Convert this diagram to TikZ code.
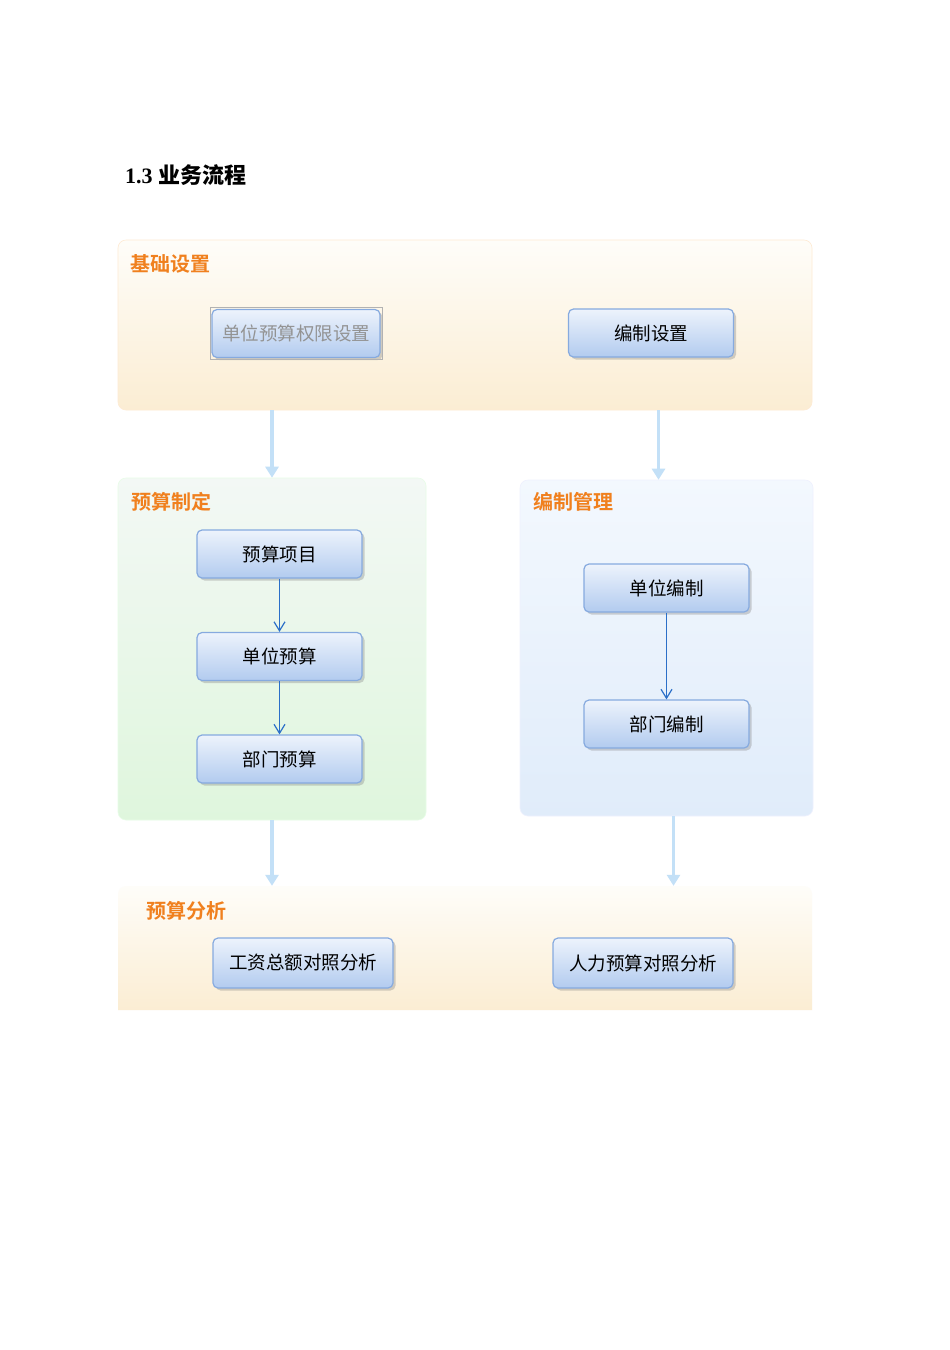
\documentclass[tikz,border=0pt]{standalone}
\usepackage{fontspec}
\setmainfont{Liberation Serif}
\newfontfamily\cjk{Noto Sans CJK SC}
\newfontfamily\cjkb{Noto Sans CJK SC Bold}
\usetikzlibrary{arrows.meta,shadows,calc}
\definecolor{lbl}{HTML}{F0801E}
\definecolor{b1top}{HTML}{FEFDF9}
\definecolor{b1bot}{HTML}{FBEDD3}
\definecolor{b2top}{HTML}{F3F8F5}
\definecolor{b2bot}{HTML}{DFF6DD}
\definecolor{b3top}{HTML}{F3F8FE}
\definecolor{b3bot}{HTML}{E0ECFA}
\definecolor{ntop}{HTML}{EDF3FC}
\definecolor{nbot}{HTML}{B2CBEF}
\definecolor{nborder}{HTML}{86AADF}
\definecolor{bigarr}{HTML}{C3E0F7}
\definecolor{smallarr}{HTML}{2B6FC8}
\tikzset{
  groupbox/.style={rounded corners=8pt, inner sep=0pt},
  grouplabel/.style={font=\cjkb\fontsize{20}{20}\selectfont, text=lbl, anchor=west, inner sep=0pt},
  stepbox/.style={rounded corners=5pt, draw=nborder, line width=1.2pt, top color=ntop, bottom color=nbot,
    minimum width=165pt, minimum height=48pt, inner sep=0pt,
    font=\cjk\fontsize{18.5}{18.5}\selectfont, text=black,
    drop shadow={opacity=0.35, shadow xshift=2.5pt, shadow yshift=-2.5pt}},
  bigarrow/.style={draw=bigarr, line width=3.5pt, -{Triangle[length=11pt,width=13pt]}},
  smallarrow/.style={draw=smallarr, line width=1.2pt, -{Straight Barb[length=9pt,width=11pt,line width=1.2pt]}}
}
\begin{document}
\begin{tikzpicture}[x=1pt,y=-1pt]
\useasboundingbox[fill=white] (0,0) rectangle (950,1350);
% title
\node[anchor=base west, inner sep=0pt, font=\bfseries\fontsize{22}{22}\selectfont] (title) at (125,183) {1.3 {\cjkb 业务流程}};
% group boxes
\node[groupbox, draw=b1bot!70!orange!40, line width=0.6pt, top color=b1top, bottom color=b1bot, minimum width=694pt, minimum height=170pt] (g1) at (465,325) {};
\node[groupbox, draw=b2bot!80!green!30, line width=0.6pt, top color=b2top, bottom color=b2bot, minimum width=308pt, minimum height=342pt] (g2) at (272,649) {};
\node[groupbox, draw=b3bot!85!blue!25, line width=0.6pt, top color=b3top, bottom color=b3bot, minimum width=293pt, minimum height=336pt] (g3) at (666.5,648) {};
\shade[top color=b1top, bottom color=b1bot] (118,1010) [rounded corners=8pt] -- (118,886) -- (812,886) [sharp corners] -- (812,1010) -- cycle;
\node[inner sep=0pt, minimum width=694pt, minimum height=124pt] (g4) at (465,948) {};
% group labels
\node[grouplabel] (l1) at (130,264) {基础设置};
\node[grouplabel] (l2) at (131,502) {预算制定};
\node[grouplabel] (l3) at (533,502) {编制管理};
\node[grouplabel] (l4) at (146,911) {预算分析};
% steps
\node[stepbox, minimum width=168pt, minimum height=48pt, text=gray!85] (s1) at (296,333.5) {单位预算权限设置};
\draw[draw=gray!60, line width=0.8pt] (s1.north west) ++(-1.5,-1.5) rectangle ($(s1.south east)+(1.5,1.5)$);
\node[stepbox] (s2) at (651,333) {编制设置};
\node[stepbox] (p1) at (279.5,554) {预算项目};
\node[stepbox] (p2) at (279.5,656.5) {单位预算};
\node[stepbox] (p3) at (279.5,759) {部门预算};
\node[stepbox] (m1) at (666.5,588) {单位编制};
\node[stepbox] (m2) at (666.5,724) {部门编制};
\node[stepbox, minimum width=180pt, minimum height=50pt] (a1) at (303,963) {工资总额对照分析};
\node[stepbox, minimum width=180pt, minimum height=50pt] (a2) at (643,963) {人力预算对照分析};
% arrows
\draw[smallarrow] (p1.south) -- (p2.north);
\draw[smallarrow] (p2.south) -- (p3.north);
\draw[smallarrow] (m1.south) -- (m2.north);
\draw[bigarrow] (g1.south -| g2.north) -- (g2.north);
\draw[bigarrow] ($(g1.south -| g3.north)+(-8,0)$) -- ($(g3.north)+(-8,0)$);
\draw[bigarrow] (g2.south) -- (g2.south |- g4.north);
\draw[bigarrow] ($(g3.south)+(7,0)$) -- ($(g3.south |- g4.north)+(7,0)$);
\end{tikzpicture}
\end{document}
